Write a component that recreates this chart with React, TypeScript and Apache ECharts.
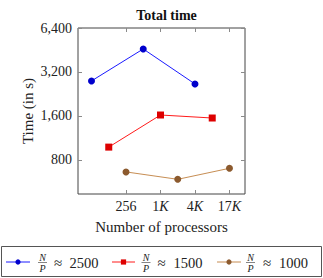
import React, { useEffect, useRef } from "react";
import * as echarts from "echarts";

const titleText = "Total time";
const xName = "Number of processors";
const yName = "Time (in s)";

const xTickValues = [256, 1024, 4096, 16384];
const xTickLabels = ["256", "1K", "4K", "17K"];
const yTickValues = [800, 1600, 3200, 6400];
const yTickLabels = ["800", "1,600", "3,200", "6,400"];

const xBlue = [64, 512, 4096];
const yBlue = [2780, 4600, 2650];
const xRed = [128, 1024, 8192];
const yRed = [980, 1625, 1550];
const xBrown = [256, 2048, 16384];
const yBrown = [663, 590, 702];

const legendValues = ["2500", "1500", "1000"];

const FONT = "'Liberation Serif', 'Times New Roman', serif";
const L2 = (v: number) => Math.log2(v);

export default function App() {
  const ref = useRef<HTMLDivElement>(null);
  useEffect(() => {
    if (!ref.current) return;
    const chart = echarts.init(ref.current, null, { renderer: "svg" });
    const xMin = 5.217;
    const xMax = 14.9;
    const yMin = 8.871;
    const yMax = L2(6400);
    const xLabelMap = (v: number) => {
      const i = xTickValues.findIndex((t) => Math.abs(L2(t) - v) < 1e-6);
      if (i < 0) return "";
      const s = xTickLabels[i];
      if (s.endsWith("K")) return `{n|${s.slice(0, -1)}}{k|K}`;
      return `{n|${s}}`;
    };
    const yLabelMap = (v: number) => {
      const i = yTickValues.findIndex((t) => Math.abs(L2(t) - v) < 1e-6);
      return i < 0 ? "" : yTickLabels[i];
    };
    const tickStyle = { show: true, inside: true, length: 4, lineStyle: { color: "#8a8a8a", width: 1 } };
    const mkSeries = (xs: number[], ys: number[], line: string, fill: string, symbol: string, size: number) => ({
      type: "line",
      data: xs.map((x, i) => [L2(x), L2(ys[i])]),
      symbol,
      symbolSize: size,
      showAllSymbol: true,
      lineStyle: { color: line, width: 0.9 },
      itemStyle: { color: fill, borderWidth: 0 },
      xAxisIndex: 0,
      yAxisIndex: 0,
    });

    const legendItems = [
      { x0: 6, x1: 30, mx: 18, line: "#0000ff", fill: "#0000cc", sym: "circle", fx: 42.5, ax: 54, nx: 69.5 },
      { x0: 112, x1: 135, mx: 123.5, line: "#ff0000", fill: "#dd0000", sym: "rect", fx: 146, ax: 157.5, nx: 173.5 },
      { x0: 217, x1: 241, mx: 229, line: "#bf8040", fill: "#8c5a2e", sym: "circle", fx: 250.5, ax: 263, nx: 279 },
    ];
    const cy = 262;
    const graphics: any[] = [
      { type: "rect", shape: { x: 1.5, y: 246.5, width: 320, height: 30 }, style: { fill: "none", stroke: "#555", lineWidth: 1 } },
    ];
    legendItems.forEach((it, i) => {
      graphics.push({ type: "line", shape: { x1: it.x0, y1: cy, x2: it.x1, y2: cy }, style: { stroke: it.line, lineWidth: 0.9 } });
      if (it.sym === "circle") {
        graphics.push({ type: "circle", shape: { cx: it.mx, cy, r: 2.6 }, style: { fill: it.fill } });
      } else {
        graphics.push({ type: "rect", shape: { x: it.mx - 2.6, y: cy - 2.6, width: 5.2, height: 5.2 }, style: { fill: it.fill } });
      }
      graphics.push({ type: "text", x: it.fx, y: cy - 5, style: { text: "N", font: `italic 10px ${FONT}`, fill: "#222", align: "center", verticalAlign: "middle" } });
      graphics.push({ type: "line", shape: { x1: it.fx - 4.5, y1: cy + 0.5, x2: it.fx + 4.5, y2: cy + 0.5 }, style: { stroke: "#333", lineWidth: 0.6 } });
      graphics.push({ type: "text", x: it.fx, y: cy + 6, style: { text: "P", font: `italic 10px ${FONT}`, fill: "#222", align: "center", verticalAlign: "middle" } });
      graphics.push({ type: "text", x: it.ax, y: cy + 0.5, style: { text: "≈", font: `15px ${FONT}`, fill: "#222", align: "left", verticalAlign: "middle" } });
      graphics.push({ type: "text", x: it.nx, y: cy + 0.5, style: { text: legendValues[i], font: `14.5px ${FONT}`, fill: "#222", align: "left", verticalAlign: "middle" } });
    });

    chart.setOption({
      animation: false,
      title: {
        text: titleText,
        left: 161.5,
        textAlign: "center",
        top: 3,
        textStyle: { fontFamily: FONT, fontSize: 14, fontWeight: "bold", color: "#111" },
      },
      grid: { left: 78, top: 28, width: 167, height: 166, show: true, borderColor: "#444", borderWidth: 1, backgroundColor: "transparent" },
      xAxis: [
        {
          type: "value",
          min: xMin,
          max: xMax,
          position: "bottom",
          axisLine: { show: false },
          splitLine: { show: false },
          axisTick: { ...tickStyle, customValues: xTickValues.map(L2) },
          axisLabel: {
            customValues: xTickValues.map(L2),
            formatter: xLabelMap,
            margin: 5,
            color: "#222",
            rich: {
              n: { fontFamily: FONT, fontSize: 14, color: "#222" },
              k: { fontFamily: FONT, fontSize: 14, fontStyle: "italic", color: "#222" },
            },
          },
          name: xName,
          nameLocation: "middle",
          nameGap: 25,
          nameMoveOverlap: false,
          nameTextStyle: { fontFamily: FONT, fontSize: 15, color: "#222" },
        },
        {
          type: "value",
          min: xMin,
          max: xMax,
          position: "top",
          axisLine: { show: false },
          splitLine: { show: false },
          axisTick: { ...tickStyle, customValues: xTickValues.map(L2) },
          axisLabel: { show: false },
        },
      ],
      yAxis: [
        {
          type: "value",
          min: yMin,
          max: yMax,
          position: "left",
          axisLine: { show: false },
          splitLine: { show: false },
          axisTick: { ...tickStyle, customValues: yTickValues.map(L2) },
          axisLabel: {
            customValues: yTickValues.map(L2),
            formatter: yLabelMap,
            margin: 6,
            fontFamily: FONT,
            fontSize: 14,
            color: "#222",
          },
          name: yName,
          nameLocation: "middle",
          nameGap: 43,
          nameMoveOverlap: false,
          nameTextStyle: { fontFamily: FONT, fontSize: 15, color: "#222" },
        },
        {
          type: "value",
          min: yMin,
          max: yMax,
          position: "right",
          axisLine: { show: false },
          splitLine: { show: false },
          axisTick: { ...tickStyle, customValues: yTickValues.map(L2) },
          axisLabel: { show: false },
        },
      ],
      series: [
        mkSeries(xBlue, yBlue, "#0000ff", "#0000cc", "circle", 7),
        mkSeries(xRed, yRed, "#ff0000", "#dd0000", "rect", 7),
        mkSeries(xBrown, yBrown, "#bf8040", "#8c5a2e", "circle", 7),
      ],
      graphic: graphics,
    });
    return () => chart.dispose();
  }, []);
  return <div ref={ref} style={{ position: "fixed", left: 0, top: 0, width: 323, height: 278, background: "#fff" }} />;
}
